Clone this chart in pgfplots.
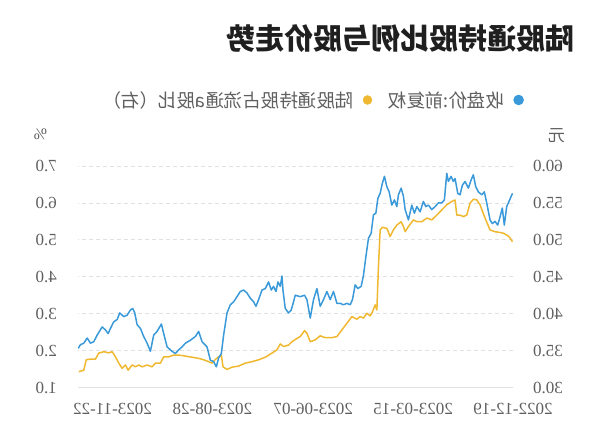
\documentclass[border=0pt]{standalone}
\usepackage{pgfplots}
\pgfplotsset{compat=1.18}
\usepackage{fontspec}
\setmainfont{Liberation Serif}
\newfontfamily\cjk{Noto Sans CJK SC}
\definecolor{pblue}{RGB}{58,154,217}
\definecolor{pyellow}{RGB}{240,184,48}
\definecolor{tgray}{RGB}{95,95,95}
\definecolor{ggray}{RGB}{225,225,225}

\pgfplotstableread{
u p
0.5 56.3
4 55.2
6.3 54.5
8.7 52.0
10.7 54.3
13 53.1
15.3 52.0
18 52.5
20.7 52.2
23 52.7
26.3 55.0
28.7 56.5
31.3 56.1
34.7 56.5
37.3 57.2
39.7 58.8
42 58.1
44.7 57.0
48 57.9
50.7 57.4
53 56.1
55.3 56.3
58 58.3
59.7 57.9
62 58.6
64.7 57.9
66.3 59.0
68.7 55.4
71.3 55.0
74.7 55.0
78 54.5
81.3 54.1
84.7 54.7
87.3 54.5
89.7 55.2
93 53.8
96.3 54.5
98.7 53.6
101.3 54.7
104.7 52.7
108 54.1
109.7 55.9
112 57.0
114.7 56.1
116.3 54.5
118.7 55.4
121.3 54.7
124 56.5
126.3 57.2
128.7 58.6
130.7 57.7
133 56.3
135.3 55.6
137.3 53.6
139.7 53.4
142 50.9
144.7 50.2
147.3 47.7
149.7 45.2
152 43.7
155.3 43.4
158 43.9
160.7 41.9
163 41.2
166.3 41.4
169.7 41.2
173 41.4
176.3 41.4
179.7 43.0
183 41.9
186.3 43.0
189.7 41.9
193 41.0
196.3 43.4
199.7 41.9
203 39.4
206.3 41.9
208.7 42.5
213 42.3
218 42.5
219.7 41.6
222 40.5
224.7 40.1
228 40.7
230.3 43.2
231.3 45.1
233 43.7
235.3 44.3
237.3 43.0
239.7 43.7
242 43.2
244.7 44.3
248 43.4
251.3 43.2
254.7 41.9
257.3 41.0
259.7 41.6
263 42.1
266.3 42.8
269.7 43.2
273 43.0
276.3 42.3
279.7 41.6
283 41.2
286.3 40.1
289.7 37.1
292 34.6
294.7 34.0
297 32.8
299.7 33.5
303 33.7
306.3 35.5
311.3 36.2
314.7 37.6
318 36.9
323 36.4
328 36.0
331.3 35.5
334.7 35.1
338 34.6
341.3 34.9
346.3 35.5
349.7 37.3
352 38.6
356.3 37.6
359.7 37.1
363 34.9
366.3 36.0
369.7 36.9
373 38.0
376.3 38.5
378.7 40.1
380.7 40.7
383 40.5
386.3 39.8
389.7 39.6
393.7 40.1
396.3 39.2
399.7 38.9
403 38.0
405.3 37.3
408 37.8
411.3 38.2
416.3 37.1
419.7 36.2
423 36.0
426.3 36.7
429.7 36.0
433 35.8
435.3 35.3
}\pricetable

\pgfplotstableread{
u v
0.5 4.95
4 5.09
6.3 5.13
9.7 5.18
13 5.20
18 5.22
23 5.27
28 5.59
33 5.95
36.3 6.08
39.7 6.10
43 5.99
46.3 5.67
49.7 5.63
53 5.67
56.3 5.67
58 6.08
61.3 6.04
66.3 5.95
71.3 5.81
76.3 5.67
81.3 5.54
86.3 5.59
91.3 5.49
96.3 5.49
99.7 5.54
104.7 5.36
108 5.22
109.7 5.36
112 5.49
116.3 5.40
119.7 5.27
123 5.09
126.3 5.31
130.7 5.34
133 5.27
134.7 4.27
136.3 3.10
138 3.24
140.7 3.05
143 2.94
146.3 3.01
149.7 2.88
153 2.92
156.3 2.85
161.3 2.92
166.3 2.74
171.3 2.56
176.3 2.38
181.3 2.35
188 2.35
193 2.40
198 2.29
203 2.24
206.3 2.47
208.7 2.54
213 2.38
216.3 2.33
221.3 2.24
224.7 2.15
229.7 2.11
233 2.18
236.3 2.02
241.3 1.93
248 1.82
254.7 1.75
261.3 1.70
268 1.66
274.7 1.58
281.3 1.55
286.3 1.49
290.3 1.56
292 1.88
294.7 1.83
298 1.76
301.3 1.66
304.7 1.70
309.7 1.75
314.7 1.79
321.3 1.82
328 1.85
334.7 1.88
339.7 1.88
344.7 1.83
349.7 1.83
353 1.66
358 1.66
361.3 1.56
366.3 1.61
371.3 1.56
374.7 1.61
378 1.56
381.3 1.61
385.3 1.47
388 1.61
391.3 1.52
394.7 1.66
398 1.83
401.3 1.97
404.7 1.94
409.7 1.97
414.7 1.93
418 1.77
423 1.77
427.3 1.75
429.7 1.47
434.7 1.43
}\sharetable

\begin{document}
\begin{tikzpicture}
\useasboundingbox (0,0) rectangle (600pt,446pt);
\pgfplotsset{
  common/.style={
    at={(78pt,58.5pt)}, anchor=south west,
    scale only axis, width=435pt, height=221.5pt,
    xmin=0, xmax=435.5, x dir=reverse,
    major tick length=0pt,
    /pgf/number format/assume math mode=true,
    /pgf/number format/.cd, fixed, fixed zerofill, precision=1, /pgfplots/.cd,
    tick label style={font=\fontsize{17}{20}\selectfont, text=tgray},
    clip=true,
  }
}
\begin{axis}[common,
  ymin=1, ymax=7, ytick={1,2,3,4,5,6,7},
  axis y line*=left, axis x line*=bottom,
  y axis line style={draw=none},
  x axis line style={draw=ggray, line width=0.8pt},
  ymajorgrids, grid style={draw=ggray, dash pattern=on 4pt off 3pt, line width=0.7pt},
  xtick={0,100,200,301,401},
  xticklabels={2022-12-19,2023-03-15,2023-06-07,2023-08-28,2023-11-22},
  xticklabel style={anchor=north, inner sep=0pt, yshift=-15pt, xscale=-1},
  yticklabel style={anchor=west, inner sep=0pt, xshift=-21pt, xscale=-1},
  ylabel={\%},
  ylabel style={at={(axis description cs:-0.086,1.145)}, anchor=center, rotate=-90, inner sep=0pt, xscale=-1, font=\fontsize{16}{18}\selectfont, text=tgray},
]
\addplot[pyellow, line width=1.5pt, line join=round] table[x=u, y=v] {\sharetable};
\end{axis}
\begin{axis}[common,
  ymin=30, ymax=60, ytick={30,35,40,45,50,55,60},
  axis y line*=right, axis x line=none,
  y axis line style={draw=none},
  yticklabel style={anchor=east, inner sep=0pt, xshift=20pt, xscale=-1},
  ylabel={\cjk 元},
  ylabel style={at={(axis description cs:1.100,1.135)}, anchor=center, rotate=-90, inner sep=0pt, xscale=-1, font=\fontsize{17}{19}\selectfont, text=tgray},
  title={\cjk\bfseries 陆股通持股比例与股价走势},
  title style={at={(axis description cs:0.741,1.546)}, anchor=center, xscale=-1, inner sep=0pt, font=\fontsize{29}{32}\selectfont, text=black!88},
  legend image code/.code={\fill[#1] (0pt,0pt) circle (4.5pt);},
  legend plot pos=right,
  legend style={at={(axis description cs:0.540,1.298)}, anchor=center, draw=none, fill=none,
    legend columns=2, font=\fontsize{18.5}{20}\selectfont\cjk, text=tgray,
    nodes={xscale=-1, inner sep=1pt},
    /tikz/every odd column/.append style={column sep=8pt},
    /tikz/every even column/.append style={column sep=15pt}},
]
\addlegendimage{pyellow}
\addlegendentry{陆股通持股占流通a股比（右）}
\addplot[pblue, line width=1.5pt, line join=round] table[x=u, y=p] {\pricetable};
\addlegendentry{收盘价:前复权}
\end{axis}
\end{tikzpicture}
\end{document}
